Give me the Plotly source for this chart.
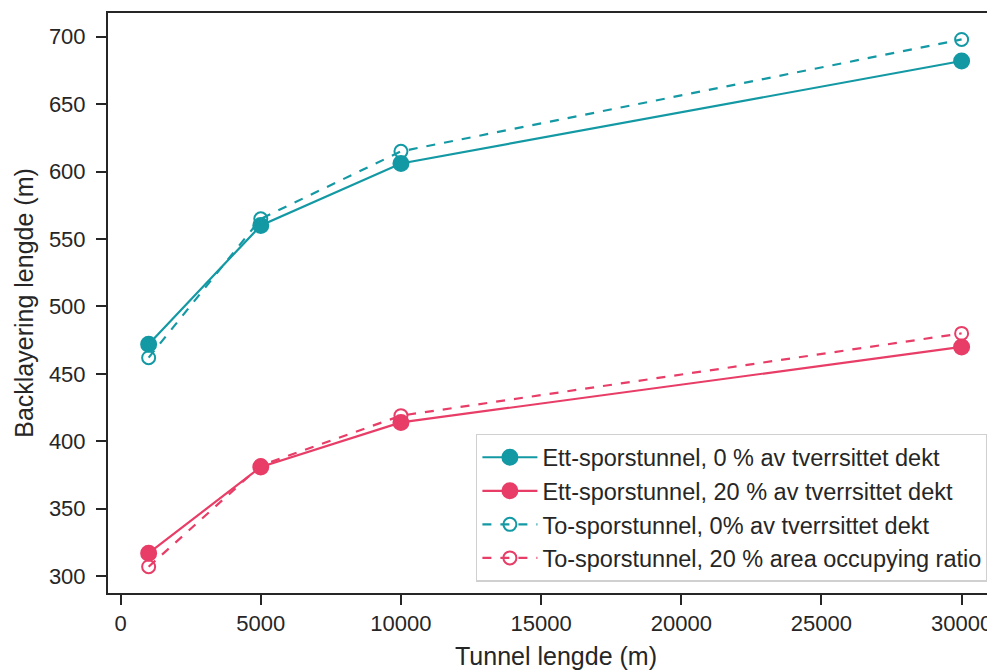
import plotly.graph_objects as go

tunnel_length = [1000, 5000, 10000, 30000]
ett_0 = [472, 560, 606, 682]
ett_20 = [317, 381, 414, 470]
to_0 = [462, 565, 615, 698]
to_20 = [307, 382, 419, 480]

names = [
    "Ett-sporstunnel, 0 % av tverrsittet dekt",
    "Ett-sporstunnel, 20 % av tverrsittet dekt",
    "To-sporstunnel, 0% av tverrsittet dekt",
    "To-sporstunnel, 20 % area occupying ratio",
]
x_title = "Tunnel lengde (m)"
y_title = "Backlayering lengde (m)"

teal = "#1399a4"
red = "#e83d67"

fig = go.Figure()
series = [
    (ett_0, teal, "solid", "circle", names[0]),
    (ett_20, red, "solid", "circle", names[1]),
    (to_0, teal, "dash", "circle-open", names[2]),
    (to_20, red, "dash", "circle-open", names[3]),
]
for i, (ys, c, dash, sym, nm) in enumerate(series):
    fig.add_trace(go.Scatter(
        x=tunnel_length, y=ys, name=nm, mode="lines+markers",
        line=dict(color=c, width=2.2, dash=dash),
        marker=dict(symbol=sym, size=15 if sym == "circle" else 13, color=c,
                    line=dict(width=2, color=c)),
        legendgroup=f"g{i}",
    ))

axis_col = "#262626"
fig.update_layout(
    width=987, height=663,
    margin=dict(l=100, r=0, t=5, b=78),
    paper_bgcolor="white", plot_bgcolor="white",
    font=dict(family="Liberation Sans, Arial, sans-serif", size=22, color=axis_col),
    xaxis=dict(
        range=[-450, 31191], tickvals=[0, 5000, 10000, 15000, 20000, 25000, 30000],
        ticktext=["0", "5000", "10000", "15000", "20000", "25000", "30000"],
        showgrid=False, zeroline=False, showline=True, linecolor=axis_col, linewidth=2,
        mirror=True, ticks="outside", ticklen=10, tickwidth=2, tickcolor=axis_col,
        automargin=False,
    ),
    yaxis=dict(
        range=[287.5, 717.6], tickvals=[300, 350, 400, 450, 500, 550, 600, 650, 700],
        showgrid=False, zeroline=False, showline=True, linecolor=axis_col, linewidth=2,
        ticks="outside", ticklen=10, tickwidth=2, tickcolor=axis_col,
        ticklabelstandoff=6, automargin=False,
        title=dict(text=y_title, font=dict(size=25), standoff=8),
    ),
    legend=dict(
        x=0.992, y=0.019, xanchor="right", yanchor="bottom",
        bgcolor="white", bordercolor="#d0d0d0", borderwidth=1.5,
        font=dict(size=23.5, color=axis_col), traceorder="grouped", tracegroupgap=0,
        itemwidth=55,
    ),
    showlegend=True,
    annotations=[dict(
        text=x_title, xref="paper", yref="paper", x=0.5, y=0,
        xanchor="center", yanchor="middle", showarrow=False,
        xshift=4, yshift=-63, font=dict(size=25, color=axis_col),
    )],
)

fig.write_html("out.html")
